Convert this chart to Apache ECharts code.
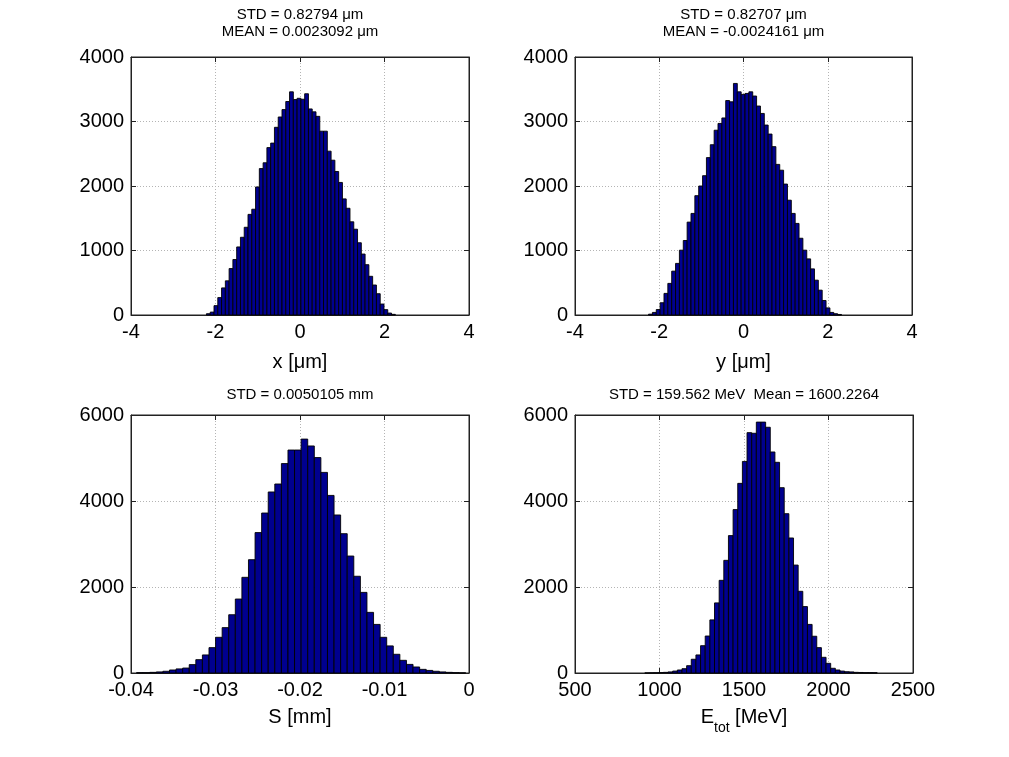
<!DOCTYPE html>
<html>
<head>
<meta charset="utf-8">
<script src="https://cdn.jsdelivr.net/npm/echarts@6/dist/echarts.min.js"></script>
<style>
html,body{margin:0;padding:0;background:#fff;}
#c{width:1009px;height:757px;}
</style>
</head>
<body>
<div id="c"></div>
<script>
// ---- data (histogram counts, 50 bins each) ----
const xStart = -2.214, xWidth = 0.0894;
const xCounts = [20,45,145,270,420,530,720,860,1055,1205,1360,1560,1640,1985,2270,2360,2595,2665,2910,3070,3185,3310,3460,3340,3360,3345,3430,3195,3150,3080,2850,2850,2540,2400,2225,2055,1800,1655,1445,1330,1120,945,780,600,465,330,170,83,30,10];

const yStart = -2.254, yWidth = 0.0916;
const yCounts = [13,40,85,190,335,490,680,800,1005,1155,1440,1575,1850,2000,2160,2440,2640,2865,2970,3055,3325,3305,3590,3460,3420,3435,3460,3395,3240,3125,2945,2805,2610,2335,2245,2030,1780,1575,1420,1190,1005,870,715,540,385,225,110,40,20,8];

const sStart = -0.03934, sWidth = 0.000779;
const sCounts = [8,8,15,25,40,70,95,115,195,310,420,590,830,1055,1355,1720,2225,2635,3265,3720,4210,4395,4870,5185,5185,5440,5280,5010,4665,4130,3675,3240,2720,2250,1875,1410,1130,830,630,435,295,200,140,85,60,40,25,15,8,3];

const eStart = 913, eWidth = 27.5;
const eCounts = [2,4,6,10,15,25,45,70,100,170,320,420,635,860,1235,1630,2155,2620,3195,3800,4410,4920,5590,5575,5835,5835,5715,5140,4900,4310,3705,3140,2510,1900,1545,1130,855,590,365,225,110,70,45,30,25,15,12,8,8,6];

const titles = [
  'STD = 0.82794 \u03bcm\nMEAN = 0.0023092 \u03bcm',
  'STD = 0.82707 \u03bcm\nMEAN = -0.0024161 \u03bcm',
  'STD = 0.0050105 mm',
  'STD = 159.562 MeV  Mean = 1600.2264'
];
const xNames = ['x [\u03bcm]', 'y [\u03bcm]', 'S [mm]', '{e|E}{s|tot}{e| [MeV]}'];
const xRanges = [[-4,4,2],[-4,4,2],[-0.04,0,0.01],[500,2500,500]];
const yRanges = [[0,4000,1000],[0,4000,1000],[0,6000,2000],[0,6000,2000]];

// ---- layout ----
const FONT = 'Liberation Sans, Arial, Helvetica, sans-serif';
const grids = [
  {left:131, top:57, width:338, height:258},
  {left:575, top:57, width:337, height:258},
  {left:131, top:415, width:338, height:258},
  {left:575, top:415, width:338, height:258}
];
const titleTops = [6, 6, 386, 386];
const nameGaps = [35, 35, 32, 23];

function bins(start, width, counts){
  return counts.map((c,i)=>[start + i*width, start + (i+1)*width, c]);
}
const hists = [bins(xStart,xWidth,xCounts), bins(yStart,yWidth,yCounts), bins(sStart,sWidth,sCounts), bins(eStart,eWidth,eCounts)];

const gridLine = {show:true, lineStyle:{color:'#b4b4b4', type:[1,2], width:1}};
const tick = {show:true, inside:true, length:5, lineStyle:{color:'#222', width:1}};
const axLine = {show:true, onZero:false, lineStyle:{color:'#222', width:1}};

const xAxis = [], yAxis = [], series = [], title = [];
for (let i=0;i<4;i++){
  xAxis.push({
    type:'value', gridIndex:i, position:'bottom', min:xRanges[i][0], max:xRanges[i][1], interval:xRanges[i][2],
    axisLine:axLine, axisTick:tick, splitLine:gridLine,
    axisLabel:{color:'#000', fontSize:20, fontFamily:FONT, margin:7, formatter:v=>String(+v.toFixed(6))},
    name:xNames[i], nameLocation:'middle', nameGap:nameGaps[i],
    nameTextStyle:{color:'#000', fontSize:20, fontFamily:FONT, lineHeight:24,
      rich:{ e:{fontSize:20, fontFamily:FONT, color:'#000', lineHeight:34},
             s:{fontSize:14, fontFamily:FONT, color:'#000', lineHeight:14, verticalAlign:'bottom'} }}
  });
  yAxis.push({
    type:'value', gridIndex:i, position:'left', min:yRanges[i][0], max:yRanges[i][1], interval:yRanges[i][2],
    axisLine:axLine, axisTick:tick, splitLine:gridLine,
    axisLabel:{color:'#000', fontSize:20, fontFamily:FONT, margin:7, formatter:v=>String(v)}
  });
  title.push({
    text:titles[i], left:grids[i].left + grids[i].width/2, top:titleTops[i], textAlign:'center', padding:0,
    textStyle:{fontSize:15, fontWeight:'normal', fontFamily:FONT, color:'#000', lineHeight:17}
  });
  series.push({
    type:'custom', xAxisIndex:i, yAxisIndex:i, data:hists[i], silent:true,
    encode:{x:[0,1], y:2},
    renderItem:function(params, api){
      const p0 = api.coord([api.value(0), api.value(2)]);
      const p1 = api.coord([api.value(1), 0]);
      return {type:'rect', shape:{x:p0[0], y:p0[1], width:p1[0]-p0[0], height:p1[1]-p0[1]},
        style:{fill:'#00008f', stroke:'#000', lineWidth:0.9}};
    }
  });
}
// secondary axes for top/right ticks (MATLAB box)
for (let i=0;i<4;i++){
  xAxis.push({type:'value', gridIndex:i, position:'top', min:xRanges[i][0], max:xRanges[i][1], interval:xRanges[i][2],
    axisLine:axLine, axisTick:tick, axisLabel:{show:false}, splitLine:{show:false}});
  yAxis.push({type:'value', gridIndex:i, position:'right', min:yRanges[i][0], max:yRanges[i][1], interval:yRanges[i][2],
    axisLine:axLine, axisTick:tick, axisLabel:{show:false}, splitLine:{show:false}});
}

const chart = echarts.init(document.getElementById('c'), null, {renderer:'canvas'});
chart.setOption({
  backgroundColor:'#fff',
  animation:false,
  title:title,
  grid:grids.map(g=>Object.assign({show:true, borderColor:'#222', borderWidth:1, backgroundColor:'#fff'}, g)),
  xAxis:xAxis, yAxis:yAxis, series:series
});
</script>
</body>
</html>
